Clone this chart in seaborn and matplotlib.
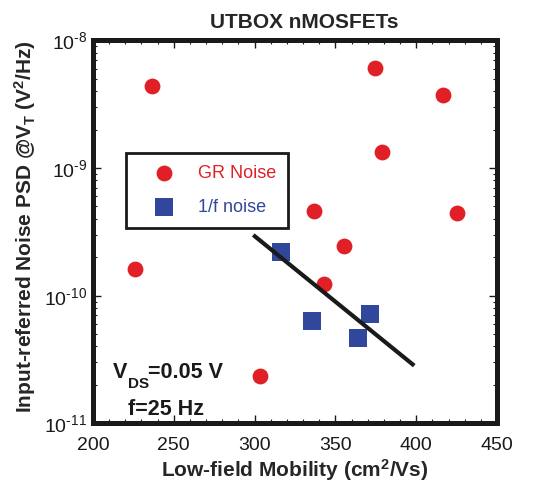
import numpy as np
import pandas as pd
import matplotlib
matplotlib.use("Agg")
import matplotlib.pyplot as plt
from matplotlib.ticker import MultipleLocator, LogLocator, FixedLocator, FuncFormatter, NullFormatter
import seaborn as sns

# Low-field mobility (cm^2/Vs) and input-referred noise PSD at V_T (V^2/Hz)
gr_mobility = [236.5, 374.5, 416.6, 379.1, 336.8, 355.3, 425.4, 342.8, 226.2, 303.3]
gr_psd = [4.42e-9, 6.05e-9, 3.74e-9, 1.33e-9, 4.61e-10, 2.45e-10, 4.42e-10, 1.23e-10, 1.62e-10, 2.36e-11]

flicker_mobility = [316.3, 335.5, 371.6, 364.2]
flicker_psd = [2.19e-10, 6.33e-11, 7.19e-11, 4.69e-11]

# Trend line through the 1/f noise data (end points)
fit_mobility = [299.2, 398.8]
fit_psd = [2.99e-10, 2.83e-11]

x_ticks = [200, 250, 300, 350, 400, 450]
y_ticks = [1e-11, 1e-10, 1e-9, 1e-8]

series_labels = ["GR Noise", "1/f noise"]
RED = "#E01F26"
BLUE = "#30479C"
INK = "#1a1a1a"

sns.set_style("ticks")
plt.rcParams["font.family"] = ["Liberation Sans", "DejaVu Sans"]
plt.rcParams["mathtext.fontset"] = "custom"
plt.rcParams["mathtext.rm"] = "Liberation Sans"
plt.rcParams["mathtext.it"] = "Liberation Sans:italic"
plt.rcParams["mathtext.bf"] = "Liberation Sans:bold"

gr_df = pd.DataFrame({"mobility": gr_mobility, "psd": gr_psd})
fl_df = pd.DataFrame({"mobility": flicker_mobility, "psd": flicker_psd})
fit_df = pd.DataFrame({"mobility": fit_mobility, "psd": fit_psd})

fig = plt.figure(figsize=(5.37, 4.84), dpi=100)
ax = fig.add_axes([0.173, 0.1254, 0.7525, 0.791])

ax.set_yscale("log")

sns.lineplot(data=fit_df, x="mobility", y="psd", ax=ax, color=INK,
             linewidth=3.0, solid_capstyle="butt", zorder=3)
sns.scatterplot(data=gr_df, x="mobility", y="psd", ax=ax, color=RED, marker="o",
                s=130, linewidth=0, label=series_labels[0], zorder=2)
sns.scatterplot(data=fl_df, x="mobility", y="psd", ax=ax, color=BLUE, marker="s",
                s=150, linewidth=0, label=series_labels[1], zorder=2)

ax.set_xlim(200, 450)
ax.set_ylim(1e-11, 1e-8)
ax.xaxis.set_major_locator(FixedLocator(x_ticks))
ax.xaxis.set_minor_locator(MultipleLocator(10))
ax.yaxis.set_major_locator(FixedLocator(y_ticks))
ax.yaxis.set_minor_locator(LogLocator(base=10, subs=np.arange(2, 10), numticks=20))
ax.yaxis.set_minor_formatter(NullFormatter())
ax.yaxis.set_major_formatter(
    FuncFormatter(lambda v, p: r"$10^{\text{-%d}}$" % abs(round(np.log10(v)))))

for side in ax.spines.values():
    side.set_linewidth(3.6)
    side.set_color(INK)
    side.set_visible(True)

ax.tick_params(which="both", direction="in", top=True, right=True, color=INK)
ax.tick_params(which="major", length=6, width=1.0, labelsize=14, colors=INK)
ax.tick_params(which="minor", length=3, width=0.8)
ax.tick_params(axis="x", which="major", pad=10)
ax.tick_params(axis="y", which="major", pad=4)

ax.set_xlabel(r"Low-field Mobility (cm$^\mathbf{2}$/Vs)", fontsize=15,
              fontweight="bold", labelpad=2)
ax.set_ylabel(r"Input-referred Noise PSD @V$_\mathbf{T}$ (V$^\mathbf{2}$/Hz)",
              fontsize=15, fontweight="bold")
ax.yaxis.set_label_coords(-0.135, 0.515)
ax.set_title("UTBOX nMOSFETs", fontsize=15, fontweight="bold", pad=9, x=0.5235)

leg = ax.legend(loc="upper left", bbox_to_anchor=(0.0817, 0.706), borderaxespad=0,
                fontsize=13, frameon=True, fancybox=False, borderpad=0.65,
                handlelength=2.9, handletextpad=0.45, labelspacing=0.95,
                markerscale=1.0)
leg.get_frame().set_edgecolor(INK)
leg.get_frame().set_linewidth(2.0)
leg.get_frame().set_alpha(1)
for txt, col in zip(leg.get_texts(), [RED, BLUE]):
    txt.set_color(col)

# Measurement conditions
ax.text(0.0495, 0.118, "V", transform=ax.transAxes, fontsize=15.5, fontweight="bold",
        color=INK, ha="left", va="baseline")
ax.text(0.0866, 0.092, "DS", transform=ax.transAxes, fontsize=11, fontweight="bold",
        color=INK, ha="left", va="baseline")
ax.text(0.136, 0.118, "=0.05 V", transform=ax.transAxes, fontsize=15.5, fontweight="bold",
        color=INK, ha="left", va="baseline")
ax.text(0.0866, 0.022, "f=25 Hz", transform=ax.transAxes, fontsize=15.5, fontweight="bold",
        color=INK, ha="left", va="baseline")

fig.savefig("out.png", dpi=100)
